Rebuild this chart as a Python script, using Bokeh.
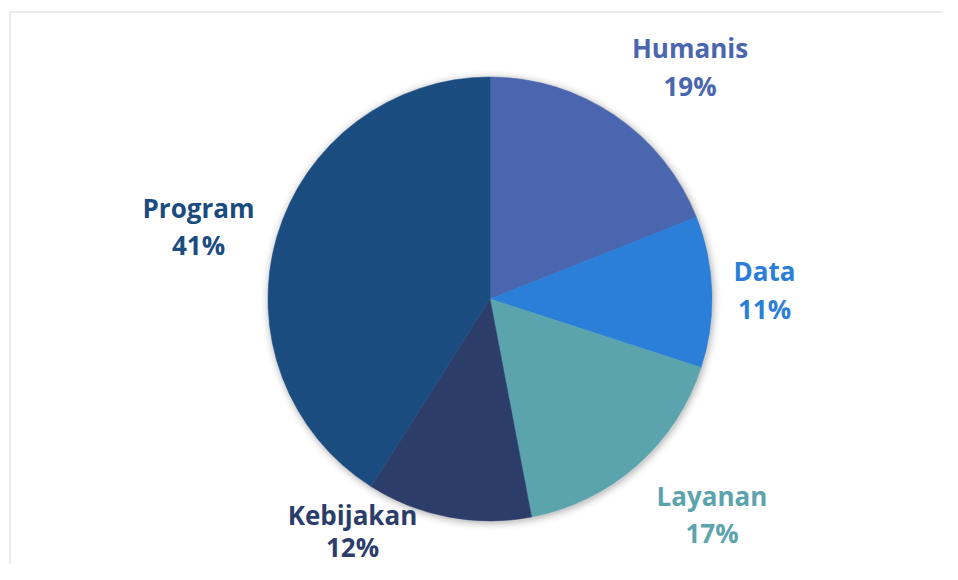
import numpy as np
from bokeh.plotting import figure
from bokeh.models import Range1d, ColumnDataSource
from bokeh.core.properties import value
from bokeh.embed import file_html
from bokeh.resources import INLINE

# ---- data ----
categories = ["Humanis", "Data", "Layanan", "Kebijakan", "Program"]
shares = [19, 11, 17, 12, 41]
colors = ["#4a66ae", "#2b7fd8", "#5ba4ae", "#2d3d69", "#1b4c80"]

# ---- layout (picture pixel coordinates) ----
W, H = 942, 564
def X(sx):
    return sx
def Y(sy):
    return H - sy

CX, CY, R = 489.5, 298.5, 222
TEXT_SHIFT = -10
# label anchors: (center x, baseline of name, baseline of percent)
label_pos = {
    "Humanis": (689.5, 57, 95),
    "Data": (764, 280, 318),
    "Layanan": (711.5, 505, 542),
    "Kebijakan": (352, 524, 556),
    "Program": (198, 217, 254),
}

p = figure(width=W, height=H, output_backend="svg", toolbar_location=None,
           x_range=Range1d(0, W), y_range=Range1d(0, H), min_border=0)
p.axis.visible = False
p.grid.visible = False
p.outline_line_color = None
p.background_fill_color = "white"
p.border_fill_color = "white"

# chart border (top and left edges visible)
p.line(x=[X(9.5), X(9.5), X(960)], y=[Y(600), Y(11.5), Y(11.5)],
       line_color="#d9d9d9", line_width=1)

# soft shadow around the pie
for i, a in enumerate([0.05, 0.04, 0.03, 0.022, 0.015, 0.01, 0.006]):
    p.circle(x=[X(CX + 1)], y=[Y(CY + 1.5)], radius=R + 1 + i * 1.3,
             radius_units="screen", fill_color="black", fill_alpha=a, line_color=None)

total = float(sum(shares))
frac = np.array(shares) / total
cum = np.concatenate([[0.0], np.cumsum(frac)])
start = np.pi / 2 - 2 * np.pi * cum[:-1]
end = np.pi / 2 - 2 * np.pi * cum[1:]

src = ColumnDataSource(dict(start=start, end=end, color=colors, cat=categories))
p.wedge(x=X(CX), y=Y(CY), radius=R, radius_units="screen",
        start_angle="start", end_angle="end", direction="clock",
        fill_color="color", line_color="color", line_width=0.5, source=src)

names_x, names_y, pct_y, lab_col, pct_txt = [], [], [], [], []
for c, s, col in zip(categories, shares, colors):
    lx, ny, py = label_pos[c]
    names_x.append(X(lx))
    names_y.append(Y(ny + TEXT_SHIFT))
    pct_y.append(Y(py + TEXT_SHIFT))
    lab_col.append(col)
    pct_txt.append(f"{round(s / total * 100)}%")

lsrc = ColumnDataSource(dict(x=names_x, ny=names_y, py=pct_y, col=lab_col,
                             name=categories, pct=pct_txt))
for ycol, tcol in (("ny", "name"), ("py", "pct")):
    p.text(x="x", y=ycol, text=tcol, source=lsrc, text_color="col",
           text_font=value("Open Sans"), text_font_style="bold",
           text_font_size="26px", text_align="center", text_baseline="alphabetic")

open("out.html", "w").write(file_html(p, INLINE))
